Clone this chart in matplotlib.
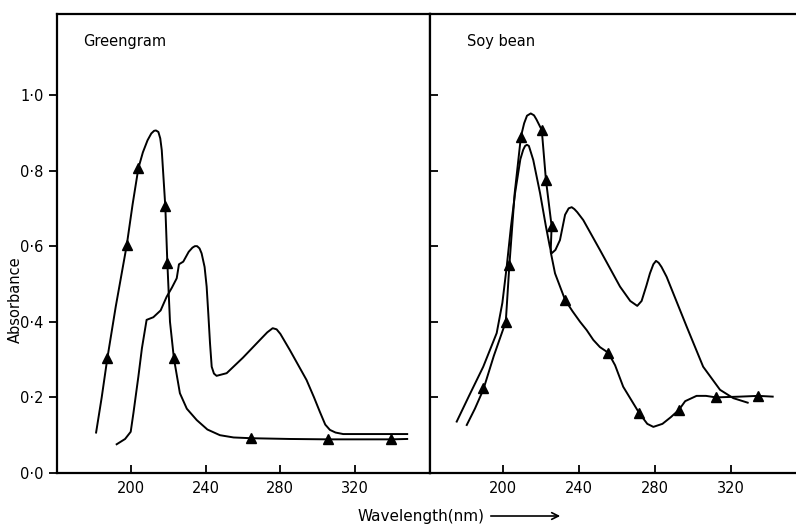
import numpy as np
import matplotlib
matplotlib.use("Agg")
import matplotlib.pyplot as plt

# Greengram: curve with triangles (A) and plain curve (B)
gg_tri_x = [181.5, 184.5, 187.5, 192.0, 197.9, 201.0, 204.1, 206.5, 209.0, 211.0, 212.5, 213.5,
            214.8, 215.8, 216.6, 218.5, 219.6, 221.0, 223.1, 226.3, 230.0, 235.3, 241.0, 247.7,
            255.0, 264.3, 285.0, 305.6, 325.0, 339.4, 347.8]
gg_tri_y = [0.107, 0.200, 0.303, 0.440, 0.603, 0.710, 0.806, 0.848, 0.880, 0.898, 0.905, 0.906,
            0.902, 0.885, 0.854, 0.705, 0.555, 0.400, 0.303, 0.211, 0.170, 0.140, 0.115, 0.100,
            0.094, 0.092, 0.090, 0.089, 0.089, 0.089, 0.090]
gg_mark_x = [187.5, 197.9, 204.1, 218.5, 219.6, 223.1, 264.3, 305.6, 339.4]
gg_mark_y = [0.303, 0.603, 0.806, 0.705, 0.555, 0.303, 0.092, 0.089, 0.089]

gg_x = [192.5, 197.0, 200.0, 201.5, 203.0, 204.1, 206.0, 208.5, 212.1, 216.0, 219.2, 222.0,
        224.6, 225.8, 228.1, 231.0, 233.0, 234.3, 235.5, 236.8, 237.9, 239.5, 240.6, 241.5,
        242.4, 243.3, 244.5, 245.9, 251.3, 260.0, 269.1, 273.0, 275.9, 278.0, 280.0, 285.1,
        294.0, 298.0, 301.1, 304.0, 306.5, 309.5, 313.6, 330.0, 347.8]
gg_y = [0.076, 0.090, 0.109, 0.160, 0.215, 0.255, 0.330, 0.405, 0.412, 0.430, 0.466, 0.490,
        0.515, 0.552, 0.559, 0.585, 0.596, 0.600, 0.600, 0.594, 0.581, 0.545, 0.493, 0.420,
        0.343, 0.281, 0.263, 0.257, 0.264, 0.305, 0.352, 0.372, 0.383, 0.380, 0.368, 0.325,
        0.246, 0.200, 0.162, 0.128, 0.114, 0.107, 0.103, 0.103, 0.103]

# Soybean: curve with triangles (C) and plain curve (D)
sb_tri_x = [180.7, 185.0, 189.4, 195.0, 201.3, 203.2, 206.0, 209.3, 211.0, 212.5, 214.5, 216.2,
            217.5, 220.3, 222.5, 225.5, 225.0, 227.3, 232.6, 236.5, 240.5, 244.0, 247.5, 251.0,
            255.4, 259.0, 263.3, 271.8, 276.0, 279.2, 284.0, 288.5, 292.7, 296.0, 302.0, 307.0,
            312.2, 325.0, 334.6, 342.2]
sb_tri_y = [0.127, 0.170, 0.220, 0.310, 0.400, 0.550, 0.740, 0.890, 0.925, 0.945, 0.951, 0.946,
            0.935, 0.907, 0.775, 0.653, 0.585, 0.528, 0.458, 0.428, 0.400, 0.378, 0.352, 0.333,
            0.318, 0.285, 0.228, 0.158, 0.130, 0.122, 0.130, 0.148, 0.167, 0.190, 0.204, 0.204,
            0.200, 0.202, 0.204, 0.202]
sb_mark_x = [189.4, 201.3, 203.2, 209.3, 220.3, 222.5, 225.5, 232.6, 255.4, 271.8, 292.7, 312.2, 334.6]
sb_mark_y = [0.225, 0.400, 0.550, 0.890, 0.907, 0.775, 0.653, 0.458, 0.318, 0.158, 0.167, 0.200, 0.204]

sb_x = [175.4, 182.0, 189.4, 196.5, 199.5, 201.8, 204.0, 206.2, 209.0, 210.5, 211.5, 212.5,
        213.5, 215.8, 219.4, 222.5, 224.5, 225.5, 227.5, 229.9, 232.6, 234.5, 236.1, 237.5,
        239.0, 242.2, 251.0, 261.6, 267.0, 270.7, 273.0, 275.5, 277.4, 279.2, 280.6, 282.0,
        283.5, 286.2, 296.8, 305.5, 314.4, 321.4, 329.0]
sb_y = [0.136, 0.205, 0.281, 0.370, 0.450, 0.546, 0.650, 0.740, 0.830, 0.855, 0.865, 0.868,
        0.865, 0.828, 0.740, 0.652, 0.600, 0.581, 0.590, 0.616, 0.683, 0.700, 0.703, 0.698,
        0.690, 0.669, 0.590, 0.493, 0.455, 0.442, 0.455, 0.495, 0.528, 0.552, 0.561, 0.556,
        0.545, 0.519, 0.387, 0.281, 0.220, 0.198, 0.186]

ytick_vals = [0, 0.2, 0.4, 0.6, 0.8, 1.0]
ytick_labels = ["0·0", "0·2", "0·4", "0·6", "0·8", "1·0"]
xtick_vals = [200, 240, 280, 320]

W, H = 796, 527
fig = plt.figure(figsize=(W / 100, H / 100), dpi=100)

ax1 = fig.add_axes([57 / W, 54 / H, 373 / W, 459 / H])
ax2 = fig.add_axes([430 / W, 54 / H, 366 / W, 459 / H])

lw = 1.4
ax1.plot(gg_tri_x, gg_tri_y, color="black", lw=lw)
ax1.plot(gg_x, gg_y, color="black", lw=lw)
ax1.plot(gg_mark_x, gg_mark_y, "^", color="black", ms=7, ls="none")

ax2.plot(sb_tri_x, sb_tri_y, color="black", lw=lw)
ax2.plot(sb_x, sb_y, color="black", lw=lw)
ax2.plot(sb_mark_x, sb_mark_y, "^", color="black", ms=7, ls="none")

ax1.set_xlim(160.6, 360)
ax2.set_xlim(161.3, 354.5)
for ax in (ax1, ax2):
    ax.set_ylim(0, 1.214)
    ax.set_xticks(xtick_vals)
    ax.set_xticklabels([str(v) for v in xtick_vals], fontsize=10.5)
    ax.tick_params(axis="x", direction="in", length=6, width=1.3, pad=6)
    for s in ax.spines.values():
        s.set_linewidth(1.6)

ax1.set_yticks(ytick_vals)
ax1.set_yticklabels(ytick_labels, fontsize=10.5)
ax1.tick_params(axis="y", direction="out", length=6, width=1.3)

ax2.set_yticks(ytick_vals)
ax2.set_yticklabels([])
ax2.tick_params(axis="y", direction="in", length=6, width=1.3)
ax2.spines["right"].set_visible(False)

ax1.text(0.07, 0.94, "Greengram", transform=ax1.transAxes, fontsize=10.5, va="center")
ax2.text(0.10, 0.94, "Soy bean", transform=ax2.transAxes, fontsize=10.5, va="center")

fig.text(15 / W, 1 - 300 / H, "Absorbance", rotation=90, fontsize=10.5,
         ha="center", va="center")

xl = fig.text(357 / W, 1 - 517 / H, "Wavelength(nm)", fontsize=11, va="center")
fig.canvas.draw()
bb = xl.get_window_extent()
x0 = (bb.x1 + 4) / W
fig.patches.append(matplotlib.patches.FancyArrowPatch(
    (x0, 1 - 516 / H), (563 / W, 1 - 516 / H), transform=fig.transFigure,
    arrowstyle="->", mutation_scale=12, lw=1.2, color="black"))

fig.savefig("out.png", dpi=100)
